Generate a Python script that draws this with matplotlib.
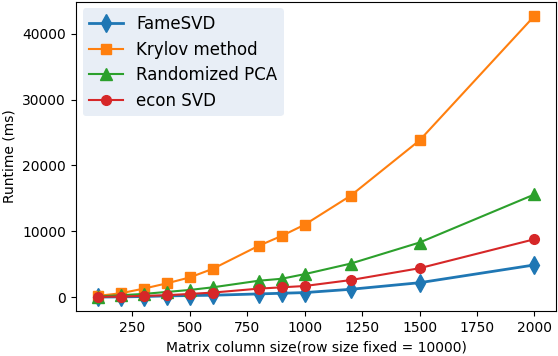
import matplotlib
matplotlib.use('Agg')
import matplotlib.pyplot as plt

# column sizes (row size fixed = 10000)
cols = [100, 200, 300, 400, 500, 600, 800, 900, 1000, 1200, 1500, 2000]

# runtimes in ms
fame_svd = [20, 50, 100, 200, 250, 300, 500, 600, 700, 1200, 2200, 4900]
krylov = [200, 600, 1300, 2100, 3000, 4300, 7800, 9300, 11000, 15400, 23800, 42700]
rand_pca = [100, 300, 500, 800, 1100, 1500, 2500, 2800, 3500, 5100, 8300, 15600]
econ_svd = [50, 100, 200, 300, 500, 700, 1300, 1500, 1700, 2600, 4400, 8800]

fig, ax = plt.subplots(figsize=(5.58, 3.56), dpi=100)

ax.plot(cols, fame_svd, color='#1f77b4', marker='d', markersize=9, linewidth=2, label='FameSVD')
ax.plot(cols, krylov, color='#ff7f0e', marker='s', markersize=7, linewidth=1.5, label='Krylov method')
ax.plot(cols, rand_pca, color='#2ca02c', marker='^', markersize=8, linewidth=1.5, label='Randomized PCA')
ax.plot(cols, econ_svd, color='#d62728', marker='o', markersize=7, linewidth=1.5, label='econ SVD')

ax.set_xlabel('Matrix column size(row size fixed = 10000)')
ax.set_ylabel('Runtime (ms)')
ax.set_xticks([250, 500, 750, 1000, 1250, 1500, 1750, 2000])
ax.set_yticks([0, 10000, 20000, 30000, 40000])

leg = ax.legend(loc='upper left', fontsize=12, facecolor='#e8eef6', edgecolor='none',
                framealpha=1, borderaxespad=0.4, labelspacing=0.45)

plt.subplots_adjust(left=0.136, right=0.997, top=0.995, bottom=0.126)
plt.savefig('out.png', dpi=100)
